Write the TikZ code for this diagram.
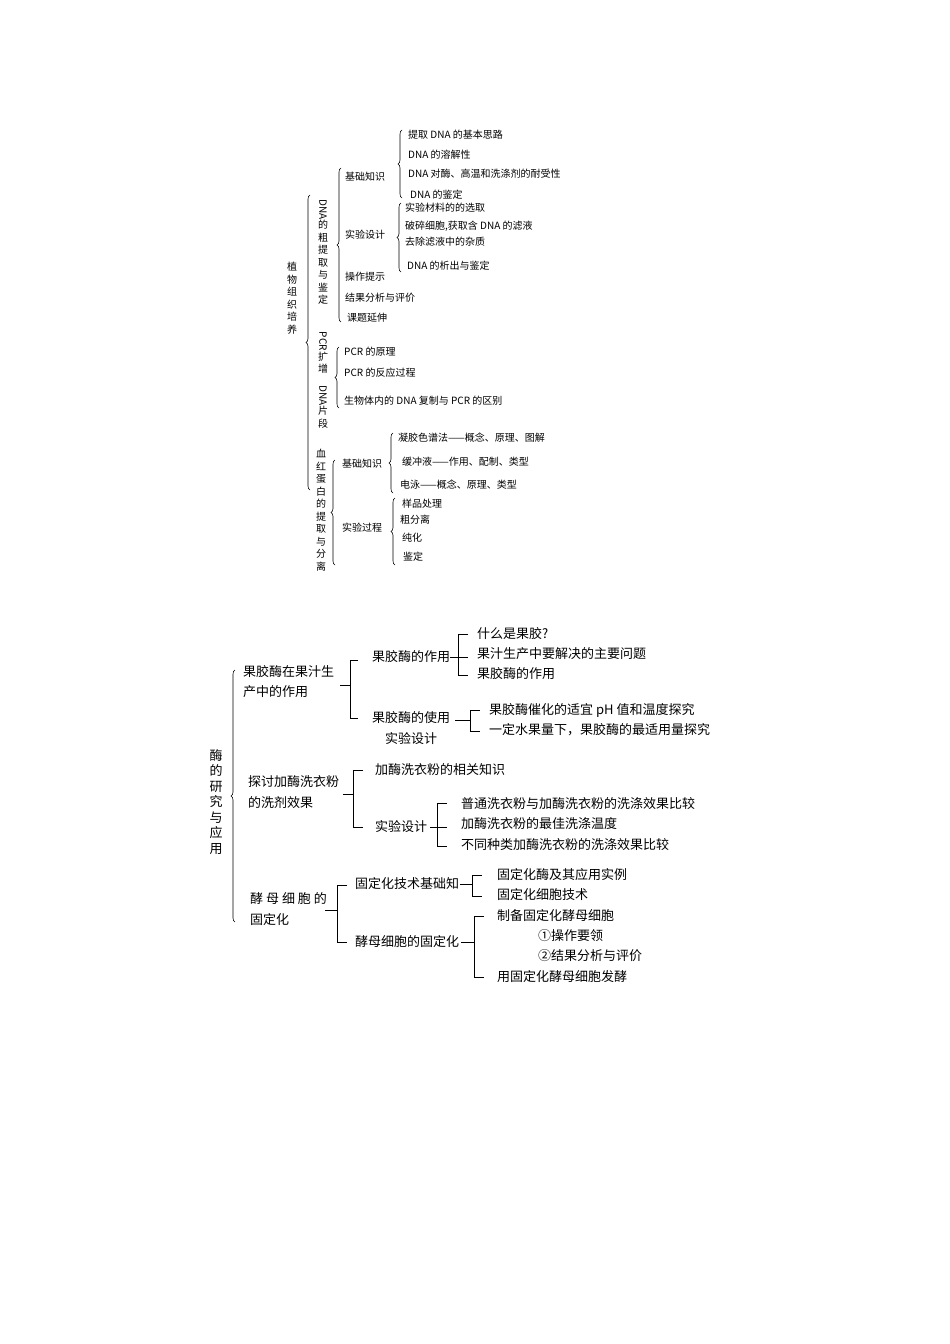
\documentclass[tikz,border=0pt]{standalone}
\usepackage{fontspec}
\setmainfont{Noto Sans CJK SC}
\usetikzlibrary{decorations.pathreplacing}
\begin{document}
\begin{tikzpicture}[x=1pt,y=-1pt,
 s/.style={anchor=west,inner sep=0pt,font=\fontsize{10}{12}\selectfont},
 b/.style={anchor=west,inner sep=0pt,font=\fontsize{13}{16}\selectfont},
 vt/.style={inner sep=0pt,align=center,font=\fontsize{10}{12.5}\selectfont},
 vb/.style={inner sep=0pt,align=center,font=\fontsize{13}{15.5}\selectfont},
 br/.style={decorate,decoration={brace,amplitude=4pt},line width=0.6pt},
 ln/.style={line width=0.7pt}]
\useasboundingbox (0,0) rectangle (950,1344);
% ---------- top tree ----------
\draw[br] (310,490) -- (310,195);
\node[vt] (t0) at (292,298) {植\\物\\组\\织\\培\\养};
\node[vt] (g1) at (323,252) {\rotatebox{-90}{DNA}\\的\\粗\\提\\取\\与\\鉴\\定};
\draw[br] (341,322) -- (341,168);
\node[s] (a1) at (345,177) {基础知识};
\draw[br] (402,198) -- (402,130);
\node[s] (a11) at (408,135) {提取 DNA 的基本思路};
\node[s] (a12) at (408,155) {DNA 的溶解性};
\node[s] (a13) at (408,174) {DNA 对酶、高温和洗涤剂的耐受性};
\node[s] (a14) at (410,195) {DNA 的鉴定};
\node[s] (a2) at (345,235) {实验设计};
\draw[br] (401,272) -- (401,203);
\node[s] (a21) at (405,208) {实验材料的的选取};
\node[s] (a22) at (405,226) {破碎细胞,获取含 DNA 的滤液};
\node[s] (a23) at (405,242) {去除滤液中的杂质};
\node[s] (a24) at (407,266) {DNA 的析出与鉴定};
\node[s] (a3) at (345,277) {操作提示};
\node[s] (a4) at (345,298) {结果分析与评价};
\node[s] (a5) at (347,318) {课题延伸};
\node[vt] (g2) at (323,380) {\rotatebox{-90}{PCR}\\扩\\增\\\rotatebox{-90}{DNA}\\片\\段};
\draw[br] (339,408) -- (339,347);
\node[s] (p1) at (344,352) {PCR 的原理};
\node[s] (p2) at (344,373) {PCR 的反应过程};
\node[s] (p3) at (344,401) {生物体内的 DNA 复制与 PCR 的区别};
\node[vt] (g3) at (321,510) {血\\红\\蛋\\白\\的\\提\\取\\与\\分\\离};
\draw[br] (335,565) -- (335,460);
\node[s] (h1) at (342,464) {基础知识};
\draw[br] (393,493) -- (393,433);
\node[s] (h11) at (398,438) {凝胶色谱法——概念、原理、图解};
\node[s] (h12) at (402,462) {缓冲液——作用、配制、类型};
\node[s] (h13) at (400,485) {电泳——概念、原理、类型};
\node[s] (h2) at (342,528) {实验过程};
\draw[br] (395,565) -- (395,498);
\node[s] (h21) at (402,504) {样品处理};
\node[s] (h22) at (400,520) {粗分离};
\node[s] (h23) at (402,538) {纯化};
\node[s] (h24) at (403,557) {鉴定};
% ---------- bottom tree ----------
\draw[br] (235,922) -- (235,670);
\node[vb] (m0) at (216,802) {酶\\的\\研\\究\\与\\应\\用};
\node[b] (c1) at (243,672) {果胶酶在果汁生};
\node[b] (c1b) at (243,692) {产中的作用};
\draw[ln] (340,685) -- (350,685) (358,660) -- (350,660) -- (350,718) -- (358,718);
\node[b] (c11) at (372,657) {果胶酶的作用};
\draw[ln] (c11.east) -- (468,657) (468,634) -- (458,634) -- (458,675) -- (468,675);
\node[b] (c111) at (477,634) {什么是果胶?};
\node[b] (c112) at (477,654) {果汁生产中要解决的主要问题};
\node[b] (c113) at (477,674) {果胶酶的作用};
\node[b] (c12) at (372,718) {果胶酶的使用};
\node[b] (c12b) at (385,739) {实验设计};
\draw[ln] (c12.east)++(5,2) -- (470,720) (480,710) -- (470,710) -- (470,731) -- (480,731);
\node[b] (c121) at (489,710) {果胶酶催化的适宜 pH 值和温度探究};
\node[b] (c122) at (489,730) {一定水果量下，果胶酶的最适用量探究};
\node[b] (c2) at (248,782) {探讨加酶洗衣粉};
\node[b] (c2b) at (248,803) {的洗剂效果};
\draw[ln] (343,794) -- (353,794) (363,770) -- (353,770) -- (353,827) -- (363,827);
\node[b] (c21) at (375,770) {加酶洗衣粉的相关知识};
\node[b] (c22) at (375,827) {实验设计};
\draw[ln] (c22.east)++(3,0) -- (447,827) (447,803) -- (437,803) -- (437,846) -- (447,846);
\node[b] (c221) at (461,804) {普通洗衣粉与加酶洗衣粉的洗涤效果比较};
\node[b] (c222) at (461,824) {加酶洗衣粉的最佳洗涤温度};
\node[b] (c223) at (461,845) {不同种类加酶洗衣粉的洗涤效果比较};
\node[b] (c3) at (250,899) {酵 母 细 胞 的};
\node[b] (c3b) at (250,920) {固定化};
\draw[ln] (325,910) -- (337,910) (347,885) -- (337,885) -- (337,942) -- (347,942);
\node[b] (c31) at (355,884) {固定化技术基础知};
\draw[ln] (460,884) -- (472,884) (482,875) -- (472,875) -- (472,896) -- (482,896);
\node[b] (c311) at (497,875) {固定化酶及其应用实例};
\node[b] (c312) at (497,895) {固定化细胞技术};
\node[b] (c32) at (355,942) {酵母细胞的固定化};
\draw[ln] (461,942) -- (474,942) (484,916) -- (474,916) -- (474,977) -- (484,977);
\node[b] (c321) at (497,916) {制备固定化酵母细胞};
\node[b] (c322) at (538,936) {①操作要领};
\node[b] (c323) at (538,956) {②结果分析与评价};
\node[b] (c324) at (497,977) {用固定化酵母细胞发酵};
\end{tikzpicture}
\end{document}
